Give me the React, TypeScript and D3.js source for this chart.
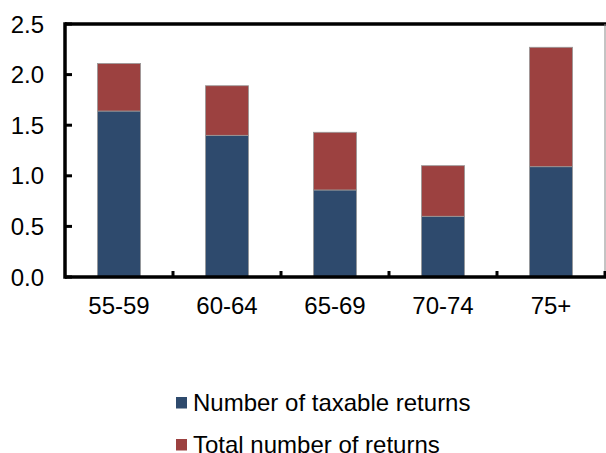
import React from "react";
import * as d3 from "d3";

const ageGroups = ["55-59", "60-64", "65-69", "70-74", "75+"];
const taxableReturns = [1.64, 1.4, 0.86, 0.6, 1.09];
const totalReturns = [2.11, 1.89, 1.43, 1.1, 2.27];
const yTicks = [0, 0.5, 1.0, 1.5, 2.0, 2.5];
const seriesNames = ["Number of taxable returns", "Total number of returns"];

const W = 606;
const H = 453;
const left = 65;
const right = 606;
const top = 24;
const bottom = 277;
const BLUE = "#2E4A6D";
const RED = "#9C4140";
const FONT = "'Liberation Sans', Arial, sans-serif";

export default function App() {
  const x = d3.scaleBand<string>().domain(ageGroups).range([left, left + 540]).paddingInner(0.6).paddingOuter(0.3);
  const band = d3.scaleBand<string>().domain(ageGroups).range([left, left + 540]);
  const y = d3.scaleLinear().domain([0, 2.5]).range([bottom, top]);

  return (
    <svg width={W} height={H} style={{ position: "absolute", left: 0, top: 0 }} fontFamily={FONT}>
      <rect width={W} height={H} fill="#fff" />
      {/* stacked bars: taxable at the base, the remainder of total on top */}
      {ageGroups.map((g, i) => (
        <g key={g}>
          <rect x={x(g)} y={y(taxableReturns[i])} width={x.bandwidth()} height={y(0) - y(taxableReturns[i])} fill={BLUE} stroke="#9a9a9a" strokeWidth={0.8} />
          <rect x={x(g)} y={y(totalReturns[i])} width={x.bandwidth()} height={y(taxableReturns[i]) - y(totalReturns[i])} fill={RED} stroke="#9a9a9a" strokeWidth={0.8} />
        </g>
      ))}
      {/* frame */}
      <line x1={left} x2={right + 2} y1={top} y2={top} stroke="#000" strokeWidth={3.5} />
      <line x1={right - 1} x2={right - 1} y1={top} y2={bottom} stroke="#888" strokeWidth={1} />
      <line x1={left} x2={left} y1={top - 1.75} y2={bottom + 1.75} stroke="#000" strokeWidth={3.5} />
      <line x1={left} x2={right + 2} y1={bottom} y2={bottom} stroke="#000" strokeWidth={3.5} />
      {/* y ticks and labels */}
      {yTicks.map((t) => (
        <g key={t}>
          <line x1={left} x2={left + 7} y1={y(t)} y2={y(t)} stroke="#000" strokeWidth={3} />
          <text x={44} y={y(t)} dy="0.36em" textAnchor="end" fontSize={24} fill="#000">
            {t.toFixed(1)}
          </text>
        </g>
      ))}
      {/* x category ticks */}
      {ageGroups.map((g) => (
        <line key={"t" + g} x1={(band(g) as number) + band.bandwidth()} x2={(band(g) as number) + band.bandwidth()} y1={bottom} y2={bottom - 6} stroke="#000" strokeWidth={3} />
      ))}
      {ageGroups.map((g) => (
        <text key={"l" + g} x={(band(g) as number) + band.bandwidth() / 2} y={314} textAnchor="middle" fontSize={24} fill="#000">
          {g}
        </text>
      ))}
      {/* legend */}
      {seriesNames.map((n, i) => (
        <g key={n} transform={`translate(176, ${411 + i * 42})`}>
          <rect y={-14} width={11} height={11.5} fill={i === 0 ? BLUE : RED} />
          <text x={17} y={0} fontSize={24} fill="#000">
            {n}
          </text>
        </g>
      ))}
    </svg>
  );
}
